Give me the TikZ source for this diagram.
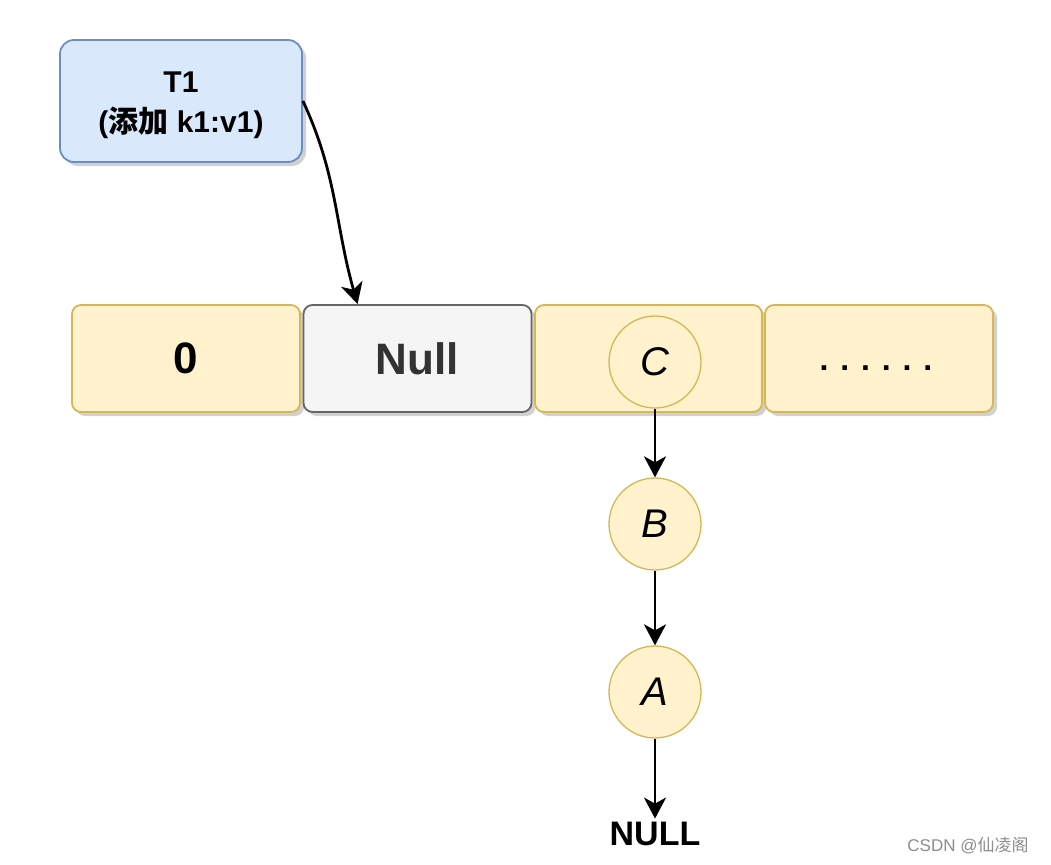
\documentclass[tikz,border=0pt]{standalone}
\usepackage{fontspec}
\setmainfont{Liberation Sans}
\newfontfamily\cjk{Noto Sans CJK SC}
\usetikzlibrary{arrows.meta,shadows}
\definecolor{yfill}{HTML}{FFF2CC}
\definecolor{ydraw}{HTML}{D6B656}
\definecolor{bfill}{HTML}{DAE8FC}
\definecolor{bdraw}{HTML}{6C8EBF}
\definecolor{gfill}{HTML}{F5F5F5}
\definecolor{gdraw}{HTML}{666666}
\begin{document}
\begin{tikzpicture}[x=1pt,y=-1pt,
  shd/.style={drop shadow={shadow xshift=4pt,shadow yshift=-4pt,fill=black!30,opacity=0.6}},
  cell/.style={shd,draw=ydraw,fill=yfill,line width=1.8pt,rounded corners=9pt,minimum width=228pt,minimum height=107pt,inner sep=0pt,font=\fontsize{44}{48}\selectfont\bfseries},
  nullcell/.style={cell,draw=gdraw,fill=gfill,text=black!80},
  tbox/.style={shd,draw=bdraw,fill=bfill,line width=1.8pt,rounded corners=14pt,minimum width=242pt,minimum height=122pt,inner sep=0pt},
  tlabel/.style={align=center,font=\fontsize{30}{40}\selectfont\bfseries},
  ball/.style={circle,draw=ydraw,fill=yfill,line width=1.3pt,minimum size=92pt,inner sep=0pt,font=\fontsize{40}{44}\selectfont\itshape},
  link/.style={line width=2.8pt,-{Stealth[length=21pt,width=22pt,inset=6pt]}},
  lbl/.style={font=\fontsize{34}{38}\selectfont\bfseries}
]
\useasboundingbox (0,0) rectangle (1051,864);
\node[tbox] (t1) at (181,101) {};
\node[tlabel] (t1txt) at (181,105) {T1\\({\cjk 添加} k1:v1)};
\node[cell] (c0) at (186,358.5) {0};
\node[nullcell] (cn) at (417.5,358.5) {Null};
\node[cell,minimum width=227pt] (cc) at (648.5,358.5) {};
\node[cell] (cd) at (879,358.5) {};
\node[font=\fontsize{32}{40}\selectfont\bfseries] (dots) at (876,368) {. . . . . .};
\node[ball] (c) at (655,362) {C};
\node[ball] (b) at (655,524) {B};
\node[ball] (a) at (655,692) {A};
\node[lbl] (nul) at (655,834) {NULL};
\node[text=black!45,font=\fontsize{17}{20}\selectfont] (wm) at (968,845) {CSDN @{\cjk 仙凌阁}};
\draw[link] (t1.east) to[out=-65,in=106] ([xshift=55pt]cn.north west);
\draw[link] (c) -- (b);
\draw[link] (b) -- (a);
\draw[link] (a) -- (nul);
\end{tikzpicture}
\end{document}
